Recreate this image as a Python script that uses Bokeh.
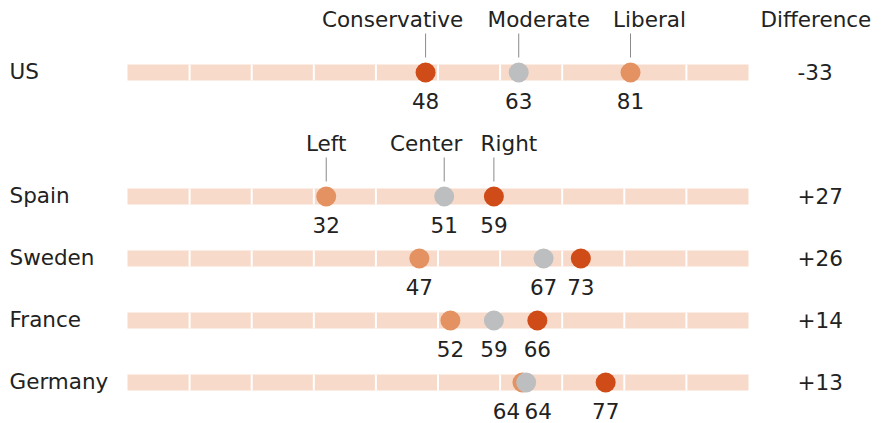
from bokeh.plotting import figure
from bokeh.models import Range1d
from bokeh.core.properties import value
from bokeh.embed import file_html
from bokeh.resources import INLINE

# ---- data ----
countries = ["US", "Spain", "Sweden", "France", "Germany"]
# Liberal (US) / Left
left_vals = [81, 32, 47, 52, 63.6]
# Moderate (US) / Center
center_vals = [63, 51, 67, 59, 64.2]
# Conservative (US) / Right
right_vals = [48, 59, 73, 66, 77]
us_groups = ["Liberal", "Moderate", "Conservative"]
eu_groups = ["Left", "Center", "Right"]
header_diff = "Difference"
ticks = [10, 20, 30, 40, 50, 60, 70, 80, 90]

# ---- style / layout ----
FONT = value("DejaVu Sans")
FS = "21.5px"
TXT = "#222222"
BAR = "#f7dac9"
C_LEFT = "#e49262"
C_CENTER = "#bdbec0"
C_RIGHT = "#cf4b17"

W, H = 884, 423
PX = 6.21          # pixels per unit
X0 = 127           # px of value 0
US_HDR_SHIFT = [19, 20, -33]     # label nudges (px) to avoid overlap
EU_HDR_SHIFT = [0, -18, 15]


def px_x(px):
    return (px - X0) / PX


slots = [0, 2, 3, 4, 5]
row_y = [72 + 62 * s for s in slots]

p = figure(width=W, height=H, x_range=Range1d(px_x(0), px_x(W)),
           y_range=Range1d(H, 0), output_backend="svg", toolbar_location=None,
           x_axis_location=None, y_axis_location=None, min_border=0)
p.grid.visible = False
p.outline_line_color = None
p.background_fill_color = "white"
p.border_fill_color = "white"

# bars
p.hbar(y=row_y, left=0, right=100, height=16, color=BAR, line_color=None)
sx, sy0, sy1 = [], [], []
for y in row_y:
    for t in ticks:
        sx.append(t)
        sy0.append(y - 8)
        sy1.append(y + 8)
p.segment(x0=sx, x1=sx, y0=sy0, y1=sy1, line_color="white", line_width=2)

# dots
p.scatter(left_vals, row_y, size=20, color=C_LEFT, line_color=None)
p.scatter(center_vals, row_y, size=20, color=C_CENTER, line_color=None)
p.scatter(right_vals, row_y, size=20, color=C_RIGHT, line_color=None)

common = dict(text_font=FONT, text_font_size=FS, text_color=TXT,
              text_baseline="middle")

# value labels
lab_x, lab_y, lab_t, lab_off = [], [], [], []
for i in range(len(countries)):
    lo = 0
    co = 0
    if abs(left_vals[i] - center_vals[i]) < 3:
        lo, co = -16, 12
    for v, o in ((left_vals[i], lo), (center_vals[i], co), (right_vals[i], 0)):
        lab_x.append(v)
        lab_y.append(row_y[i])
        lab_t.append(str(round(v)))
        lab_off.append(o)
p.text(x=lab_x, y=lab_y, text=lab_t, x_offset=lab_off, y_offset=28,
       text_align="center", **common)

# group headers with leader lines
hx, hy, ht, hoff = [], [], [], []
for i, names, shifts in ((0, us_groups, US_HDR_SHIFT), (1, eu_groups, EU_HDR_SHIFT)):
    for v, n, s in zip((left_vals[i], center_vals[i], right_vals[i]), names, shifts):
        hx.append(v)
        hy.append(row_y[i])
        ht.append(n)
        hoff.append(s)
p.text(x=hx, y=hy, text=ht, x_offset=hoff, y_offset=-53, text_align="center",
       **common)
p.segment(x0=hx, x1=hx, y0=[y - 39 for y in hy], y1=[y - 15 for y in hy],
          line_color="#8a8a8a", line_width=1)

# country names
p.text(x=[px_x(9)] * len(countries), y=row_y, text=countries, y_offset=-1,
       text_align="left", **common)

# difference column
diffs = [round(right_vals[i]) - round(left_vals[i]) for i in range(len(countries))]
diff_txt = [("+%d" % d) if d > 0 else ("-%d" % -d) for d in diffs]
p.text(x=[px_x(797)] * len(countries), y=row_y, text=diff_txt, y_offset=-1,
       text_align="left", **common)
p.text(x=[px_x(760)], y=[row_y[0]], text=[header_diff], y_offset=-53,
       text_align="left", **common)

open("out.html", "w").write(file_html(p, INLINE))
